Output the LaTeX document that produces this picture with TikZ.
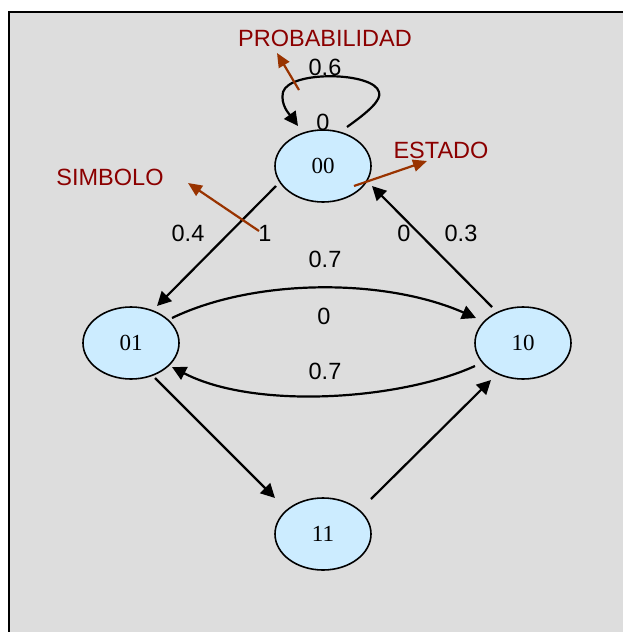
\documentclass[tikz,border=0pt]{standalone}
\usepackage{fontspec}
\setmainfont{Liberation Serif}
\newfontfamily\labelfont{Liberation Sans}
\usetikzlibrary{arrows.meta,calc,shapes.geometric}
\definecolor{bg}{HTML}{DDDDDD}
\definecolor{statefill}{HTML}{CCECFF}
\definecolor{annot}{RGB}{139,0,0}
\definecolor{annotarrow}{HTML}{993300}
\begin{document}
\begin{tikzpicture}[x=1pt,y=-1pt,
  state/.style={ellipse,draw,line width=1.6pt,fill=statefill,minimum width=96pt,minimum height=72pt,inner sep=0pt,font=\fontsize{23}{27}\selectfont},
  lbl/.style={inner sep=0pt,font=\labelfont\fontsize{23.5}{28}\selectfont},
  ann/.style={lbl,text=annot},
  trans/.style={line width=2.2pt,-{Triangle[length=14pt,width=14pt]}},
  annarrow/.style={line width=2.2pt,draw=annotarrow,fill=annotarrow,-{Triangle[length=14pt,width=12pt]}}]
\useasboundingbox (0,0) rectangle (622,632);
\fill[bg] (9,12) rectangle (640,650);
\draw[line width=1.5pt] (640,12) -- (9,12) -- (9,650);
% states
\node[state] (n00) at (323,166) {00};
\node[state] (n01) at (131,343) {01};
\node[state] (n10) at (523,343) {10};
\node[state] (n11) at (323,534) {11};
% labels
\node[ann] (tprob) at (325,38.5) {PROBABILIDAD};
\node[lbl] (l06) at (325,67) {0.6};
\node[lbl] (l0a) at (323,122) {0};
\node[ann] (test) at (441,150) {ESTADO};
\node[ann] (tsim) at (110,177) {SIMBOLO};
\node[lbl] (l04) at (188,233) {0.4};
\node[lbl] (l1) at (265,233) {1};
\node[lbl] (l0b) at (404,233) {0};
\node[lbl] (l03) at (461,233) {0.3};
\node[lbl] (l07a) at (325,259) {0.7};
\node[lbl] (l0c) at (324,316) {0};
\node[lbl] (l07b) at (325,371) {0.7};
% transitions
\draw[trans] ($(n00)+(24,-39)$) .. controls ($(n00)+(45,-54)$) and ($(n00)+(59,-66)$) .. ($(n00)+(56,-74)$)
  .. controls ($(n00)+(51,-94)$) and ($(n00)+(-33,-96)$) .. ($(n00)+(-40,-74)$)
  .. controls ($(n00)+(-43,-61)$) and ($(n00)+(-33,-51)$) .. ($(n00)+(-25,-40)$);
\draw[trans] ($(n00)+(-47,20)$) -- ($(n01)+(26,-37)$);
\draw[trans] ($(n10)+(-31,-36)$) -- ($(n00)+(49,20)$);
\draw[trans] ($(n01)+(41,-25)$) .. controls ($(n01)+(124,-65)$) and ($(n10)+(-138,-65)$) .. ($(n10)+(-47,-25)$);
\draw[trans] ($(n10)+(-48,23)$) .. controls ($(n10)+(-123,57)$) and ($(n01)+(124,67)$) .. ($(n01)+(41,24)$);
\draw[trans] ($(n01)+(24,35)$) -- ($(n11)+(-48,-36)$);
\draw[trans] ($(n11)+(48,-35)$) -- ($(n10)+(-32,37)$);
% annotation arrows
\draw[annarrow] ($(l06)+(-26,23)$) -- ($(tprob)+(-48,14.5)$);
\draw[annarrow] ($(n00)+(31,20)$) -- ($(test)+(-14,11)$);
\draw[annarrow] ($(l1)+(-6,-2)$) -- ($(tsim)+(78,6)$);
\end{tikzpicture}
\end{document}
